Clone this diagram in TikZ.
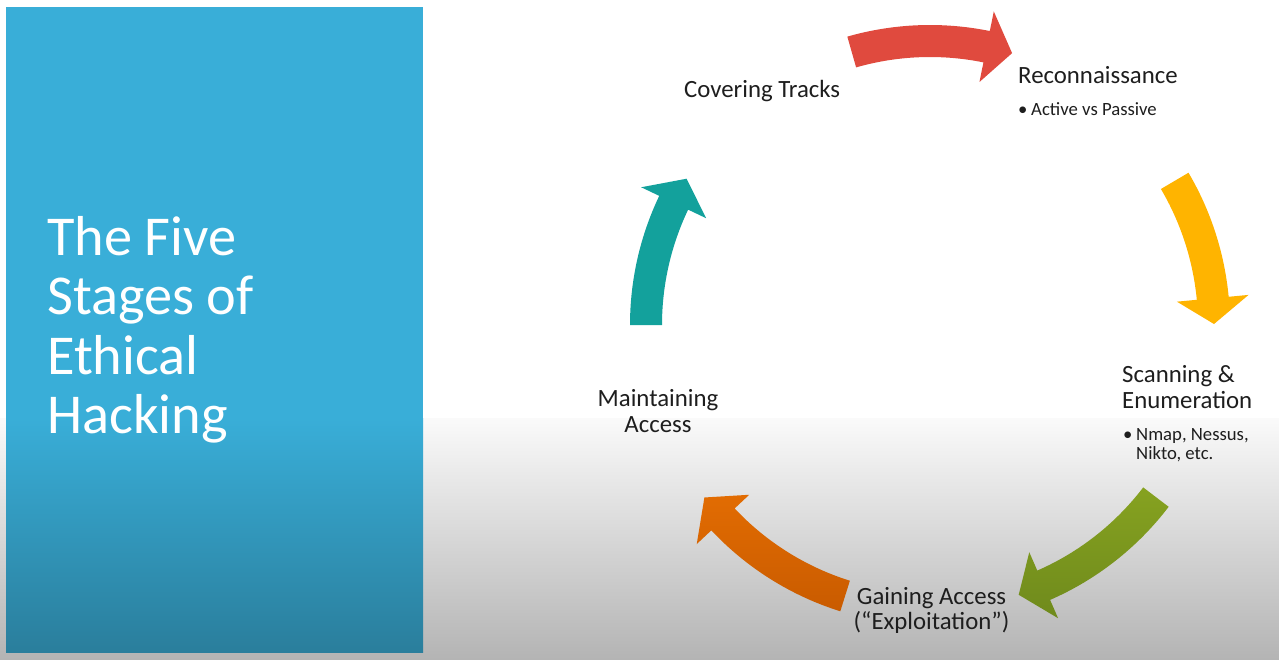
\documentclass[tikz,border=0pt]{standalone}
\usepackage{fontspec}
\setmainfont{Carlito}
\definecolor{panelTop}{HTML}{39AED8}
\definecolor{panelBot}{HTML}{2A7E9C}
\definecolor{bgTop}{HTML}{FAFAFA}
\definecolor{bgBot}{HTML}{B4B4B4}
\definecolor{txt}{HTML}{1E1E1E}
\definecolor{arRed}{HTML}{E04A3E}
\definecolor{arYellow}{HTML}{FFB400}
\definecolor{arGreenT}{HTML}{86A220}
\definecolor{arGreenB}{HTML}{6F8A1C}
\definecolor{arOrangeT}{HTML}{E26C02}
\definecolor{arOrangeB}{HTML}{C95B00}
\definecolor{arTeal}{HTML}{13A19C}
\newcommand\cyclearrow[4]{%
  \path[#1] (#2:300pt) arc[start angle=#2, end angle=#3, radius=300pt]
    -- (#3:320pt) -- (#4:284pt) -- (#3:248pt) -- (#3:268pt)
    arc[start angle=#3, end angle=#2, radius=268pt] -- cycle;}
\begin{document}
\begin{tikzpicture}[x=1pt,y=1pt,
  stage/.style={font=\fontsize{24.8}{26}\selectfont, text=txt, inner sep=0pt, anchor=base west},
  stagec/.style={stage, anchor=base},
  sub/.style={font=\fontsize{18.7}{20}\selectfont, text=txt, inner sep=0pt, anchor=base west},
  title/.style={font=\fontsize{56.3}{60}\selectfont, text=white, inner sep=0pt, anchor=base west}]
\useasboundingbox (0,0) rectangle (1279,-659);
% background
\fill[white] (0,0) rectangle (1279,-418);
\shade[top color=bgTop, bottom color=bgBot] (0,-418) rectangle (1279,-659);
% left panel
\fill[panelTop] (6,-7) rectangle (423,-418.5);
\shade[top color=panelTop, bottom color=panelBot] (6,-418) rectangle (423,-652.5);
% title
\node[title] (t1) at (47,-255) {The Five};
\node[title] (t2) at (47,-314.6) {Stages of};
\node[title] (t3) at (47,-374) {Ethical};
\node[title] (t4) at (47,-433.5) {Hacking};
% cycle arrows
\begin{scope}[shift={(930,-325)}]
  \cyclearrow{fill=arRed}{106}{78.5}{73.2}
  \cyclearrow{fill=arYellow}{30.5}{5.4}{0.2}
  \cyclearrow{top color=arGreenT, bottom color=arGreenB}{-37.3}{-66.4}{-71.8}
  \cyclearrow{top color=arOrangeT, bottom color=arOrangeB}{-107.4}{-136.8}{-142.6}
  \cyclearrow{fill=arTeal}{180}{154.5}{149}
\end{scope}
% stages
\node[stage] (cov) at (684,-97) {Covering Tracks};
\node[stage] (rec) at (1018,-83) {Reconnaissance};
\node[sub] (recb) at (1018,-115) {•};
\node[sub] (rect) at (1031,-115) {Active vs Passive};
\node[stage] (scan1) at (1122,-382) {Scanning \&};
\node[stage] (scan2) at (1122,-408) {Enumeration};
\node[sub] (scanb) at (1123,-440) {•};
\node[sub] (scant1) at (1136,-440) {Nmap, Nessus,};
\node[sub] (scant2) at (1136,-459.5) {Nikto, etc.};
\node[stagec] (gain1) at (931.5,-604) {Gaining Access};
\node[stagec] (gain2) at (931.5,-629) {(“Exploitation”)};
\node[stagec] (main1) at (658,-406) {Maintaining};
\node[stagec] (main2) at (658,-432) {Access};
\end{tikzpicture}
\end{document}
